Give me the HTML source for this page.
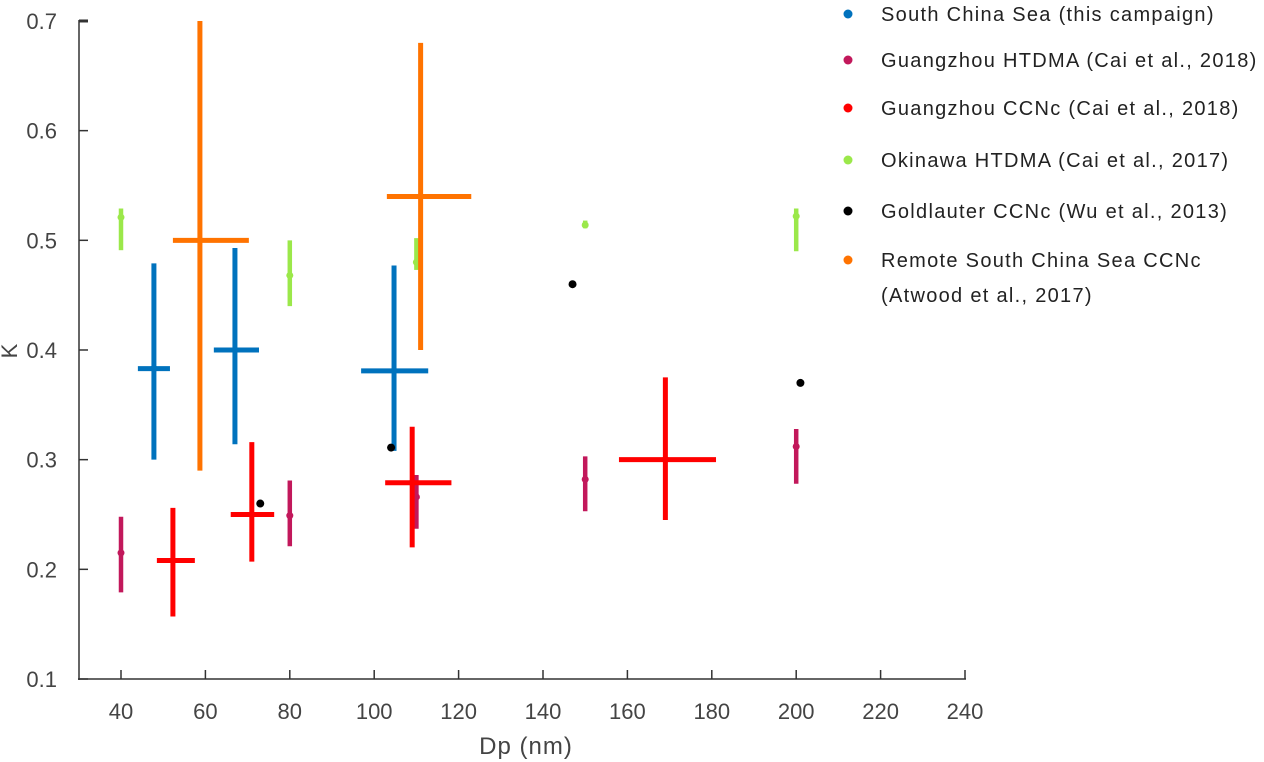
<!DOCTYPE html>
<html><head><meta charset="utf-8"><style>
body{margin:0;background:#fff;}
svg{display:block;font-family:"Liberation Sans",sans-serif;}
</style></head><body>
<svg id="chart" width="1264" height="762"></svg>
<script>
const xTicks=[40,60,80,100,120,140,160,180,200,220,240];
const yTicks=[0.1,0.2,0.3,0.4,0.5,0.6,0.7];
const scsX=[47.8,67,104.7];
const scsY=[0.383,0.40,0.381];
const scsXlo=[44,62,96.9];const scsXhi=[51.6,72.7,112.8];
const scsYlo=[0.30,0.314,0.308];const scsYhi=[0.479,0.493,0.477];
const gzhX=[40,80,110,150,200];
const gzhY=[0.215,0.249,0.266,0.282,0.312];
const gzhYlo=[0.179,0.221,0.237,0.253,0.278];const gzhYhi=[0.248,0.281,0.286,0.303,0.328];
const gzcX=[52.3,71,109,169];
const gzcY=[0.208,0.25,0.279,0.30];
const gzcXlo=[48.5,66,102.6,158];const gzcXhi=[57.5,76.3,118.3,181];
const gzcYlo=[0.157,0.207,0.22,0.245];const gzcYhi=[0.256,0.316,0.33,0.375];
const okiX=[40,80,110,150,200];
const okiY=[0.521,0.468,0.48,0.514,0.522];
const okiYlo=[0.491,0.44,0.473,0.511,0.49];const okiYhi=[0.529,0.50,0.502,0.518,0.529];
const golX=[73,104,147,201];
const golY=[0.26,0.311,0.46,0.37];
const remX=[58.7,111];
const remY=[0.50,0.54];
const remXlo=[52.3,103];const remXhi=[70.3,123];
const remYlo=[0.29,0.40];const remYhi=[0.70,0.68];
const legendLabels=["South China Sea (this campaign)","Guangzhou HTDMA (Cai et al., 2018)","Guangzhou CCNc (Cai et al., 2018)","Okinawa HTDMA (Cai et al., 2017)","Goldlauter CCNc (Wu et al., 2013)","Remote South China Sea CCNc"];

const NS="http://www.w3.org/2000/svg";
const svg=document.getElementById('chart');
const X=v=>78.8+(v-30)*4.22;
const Y=v=>679-(v-0.1)*1096.7;
function el(t,a,p){const e=document.createElementNS(NS,t);for(const k in a)e.setAttribute(k,a[k]);(p||svg).appendChild(e);return e;}
function line(x1,y1,x2,y2,c,w,name){const l=el('line',{x1,y1,x2,y2,stroke:c,'stroke-width':w});

return l;}
function dot(x,y,c,r,name){const d=el('circle',{cx:x,cy:y,r:r,fill:c});

}
line(79,20,79,680,'#333',1.5,'y-axis-line');
line(78,679,966,679,'#333',1.5,'x-axis-line');
xTicks.forEach(t=>{line(X(t),679,X(t),670,'#333',1.5,'x-tick');
const tx=el('text',{x:X(t),y:719,'text-anchor':'middle','font-size':22,fill:'#444'});tx.textContent=t;

});
yTicks.forEach(t=>{line(79,Y(t),88,Y(t),'#333',t==0.7?3:1.5,'y-tick');
const tx=el('text',{x:57,y:Y(t)+8,'text-anchor':'end','font-size':22,fill:'#444'});tx.textContent=t.toFixed(1);

});
let t=el('text',{x:526,y:754,'text-anchor':'middle','font-size':24,'letter-spacing':1,fill:'#444'});t.textContent='Dp (nm)';


t=el('text',{x:17,y:351,'text-anchor':'middle','font-size':22,fill:'#444',transform:'rotate(-90 17 351)'});t.textContent='K';


const cBlue='#0072bd',cPur='#c2185b',cRed='#ff0000',cGr='#9be84a',cOr='#ff7300';
okiX.forEach((x,i)=>{line(X(x),Y(okiYlo[i]),X(x),Y(okiYhi[i]),cGr,4.5,'okinawa-errorbar');dot(X(x),Y(okiY[i]),cGr,3.5,'okinawa-point');});
remX.forEach((x,i)=>{line(X(x),Y(remYlo[i]),X(x),Y(remYhi[i]),cOr,5,'remote-scs-yerr');line(X(remXlo[i]),Y(remY[i]),X(remXhi[i]),Y(remY[i]),cOr,5,'remote-scs-xerr');dot(X(x),Y(remY[i]),cOr,3.5,'remote-scs-point');});
scsX.forEach((x,i)=>{line(X(x),Y(scsYlo[i]),X(x),Y(scsYhi[i]),cBlue,5,'scs-yerr');line(X(scsXlo[i]),Y(scsY[i]),X(scsXhi[i]),Y(scsY[i]),cBlue,5,'scs-xerr');dot(X(x),Y(scsY[i]),cBlue,3.5,'scs-point');});
gzhX.forEach((x,i)=>{line(X(x),Y(gzhYlo[i]),X(x),Y(gzhYhi[i]),cPur,4.5,'gz-htdma-errorbar');dot(X(x),Y(gzhY[i]),cPur,3.5,'gz-htdma-point');});
gzcX.forEach((x,i)=>{line(X(x),Y(gzcYlo[i]),X(x),Y(gzcYhi[i]),cRed,5,'gz-ccnc-yerr');line(X(gzcXlo[i]),Y(gzcY[i]),X(gzcXhi[i]),Y(gzcY[i]),cRed,5,'gz-ccnc-xerr');dot(X(x),Y(gzcY[i]),cRed,3.5,'gz-ccnc-point');});
golX.forEach((x,i)=>dot(X(x),Y(golY[i]),'#000',4,'goldlauter-point'));
const lc=[cBlue,cPur,cRed,cGr,'#000',cOr];const ly=[14,60,108,160,211,260];
legendLabels.forEach((s,i)=>{dot(848,ly[i],lc[i],4.5,'legend-marker');
const tx=el('text',{x:881,y:ly[i]+7,'font-size':20,'letter-spacing':1.3,fill:'#222'});tx.textContent=s;

});
t=el('text',{x:881,y:302,'font-size':20,'letter-spacing':1.3,fill:'#222'});t.textContent='(Atwood et al., 2017)';


</script>
</body></html>
